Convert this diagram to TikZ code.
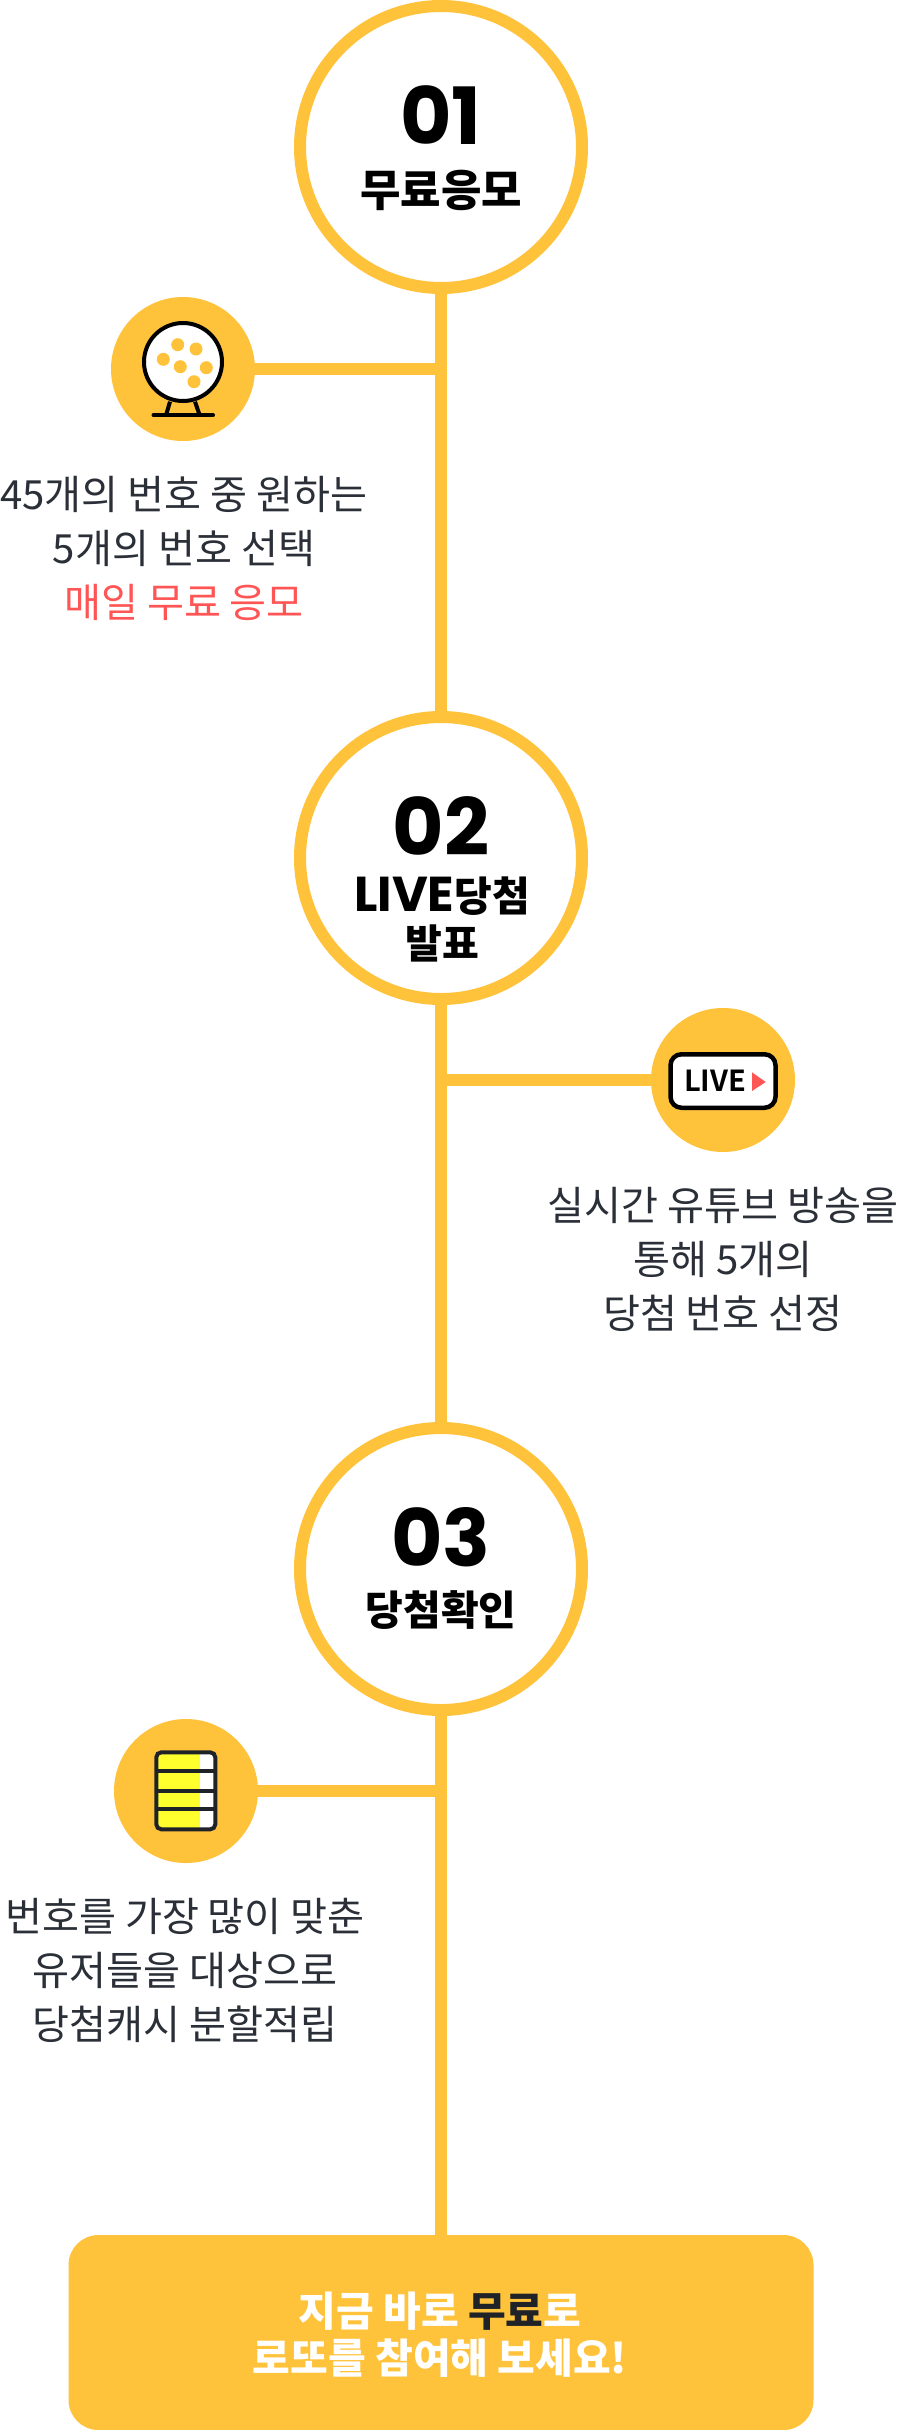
\documentclass[tikz,border=0pt]{standalone}
\usepackage{fontspec}
\setmainfont{Noto Sans CJK KR}
\newfontfamily\kr{Noto Sans CJK KR}
\newfontfamily\krb{Noto Sans CJK KR Black}
\newfontfamily\pop{Poppins}[BoldFont=Poppins Bold]
\definecolor{gold}{HTML}{FFC23B}
\definecolor{ink}{HTML}{2B3038}
\definecolor{dark}{HTML}{1F2328}
\definecolor{coral}{HTML}{FF5555}
\definecolor{lemon}{HTML}{FFFF2D}
\newcommand{\hdsz}[1]{\fontsize{#1}{48}\selectfont}
\tikzset{
  bigcirc/.style={circle,draw=gold,line width=12pt,fill=white,minimum size=282pt,inner sep=0pt},
  sidecirc/.style={circle,fill=gold,minimum size=144pt,inner sep=0pt,outer sep=0pt},
  wire/.style={draw=gold,line width=12pt},
  numtxt/.style={anchor=base,inner sep=0pt,font=\pop\bfseries\fontsize{79}{80}\selectfont},
  headtxt/.style={anchor=base,inner sep=0pt,font=\krb},
  bodytxt/.style={anchor=center,inner sep=0pt,align=center,text=ink,font=\kr\fontsize{40.2}{54}\selectfont},
  ctatxt/.style={anchor=base,inner sep=0pt,text=white,font=\krb\fontsize{41}{47}\selectfont},
}
\begin{document}
\begin{tikzpicture}[x=1pt,y=-1pt]
\useasboundingbox (0,0) rectangle (900,2430);
\fill[white] (0,0) rectangle (900,2430);
% main nodes
\node[bigcirc] (c1) at (441,147) {};
\node[bigcirc] (c2) at (441,858) {};
\node[bigcirc] (c3) at (441,1569) {};
\node[sidecirc] (s1) at (183,369) {};
\node[sidecirc] (s2) at (723,1080) {};
\node[sidecirc] (s3) at (186,1791) {};
\node[fill=gold,rounded corners=30pt,minimum width=745pt,minimum height=195pt,inner sep=0pt,outer sep=0pt] (cta) at (441,2332.5) {};
\coordinate (j1) at (441,369);
\coordinate (j2) at (441,1080);
\coordinate (j3) at (441,1791);
% connectors
\draw[wire] (c1.south) -- (c2.north);
\draw[wire] (c2.south) -- (c3.north);
\draw[wire] (c3.south) -- (cta.north);
\draw[wire] (s1.east) -- (j1);
\draw[wire] (j2) -- (s2.west);
\draw[wire] (s3.east) -- (j3);
% headings
\node[numtxt] (n1) at (441,144) {01};
\node[headtxt] (h1) at (441,206.5) {\hdsz{44}무료응모};
\node[numtxt] (n2) at (441,855) {02};
\node[headtxt] (h2) at (442,911) {\hdsz{41}{\pop\bfseries\hdsz{49}LIVE}당첨};
\node[headtxt] (h2b) at (442,958) {\hdsz{40}발표};
\node[numtxt] (n3) at (441,1566) {03};
\node[headtxt] (h3) at (441,1625) {\hdsz{41}당첨확인};
% body
\node[bodytxt] (t1) at (184,548) {45개의 번호 중 원하는\\5개의 번호 선택\\\textcolor{coral}{매일 무료 응모}};
\node[bodytxt] (t2) at (723,1259) {실시간 유튜브 방송을\\통해 5개의\\당첨 번호 선정};
\node[bodytxt] (t3) at (185,1970) {번호를 가장 많이 맞춘\\유저들을 대상으로\\당첨캐시 분할적립};
% cta
\node[ctatxt] (k1) at (440,2326) {지금 바로 \textcolor{dark}{무료}로};
\node[ctatxt] (k2) at (440,2373) {로또를 참여해 보세요!};
% globe icon
\node[circle,draw=black,fill=white,line width=4pt,minimum size=78pt,inner sep=0pt] (globe) at (183,362) {};
\foreach \p in {(177.7,344.7),(196,349),(163.3,359.3),(180.3,366.7),(206.3,367.7),(194,381.7)}
  \fill[gold] \p circle (6.5pt);
\draw[black,line width=4pt] (170,401.7) -- (166,415.3);
\draw[black,line width=4pt] (195,401.7) -- (199.7,415.3);
\draw[black,line width=4pt,line cap=round] (153.5,415.3) -- (213,415.3);
% live icon
\node[draw=black,fill=white,line width=4.5pt,rounded corners=11pt,minimum width=105pt,minimum height=53.5pt,inner sep=0pt] (livebox) at (723,1081) {};
\node[inner sep=0pt,anchor=base west,font=\fontspec{Noto Sans CJK KR Bold}\fontsize{29}{29}\selectfont] (livetxt) at (684,1091) {LIVE};
\fill[coral] (752,1072.3) -- (765.7,1082) -- (752,1091) -- cycle;
% numbers icon
\fill[white,rounded corners=5pt] (155,1751) rectangle (216.5,1830.5);
\fill[lemon] (158,1752) rectangle (199.7,1829.5);
\draw[dark,line width=4pt,rounded corners=5pt] (156.3,1752.3) rectangle (215.3,1829.3);
\foreach \yy in {1771,1790.7,1809}
  \draw[dark,line width=4pt] (156.3,\yy) -- (215.3,\yy);
\end{tikzpicture}
\end{document}
